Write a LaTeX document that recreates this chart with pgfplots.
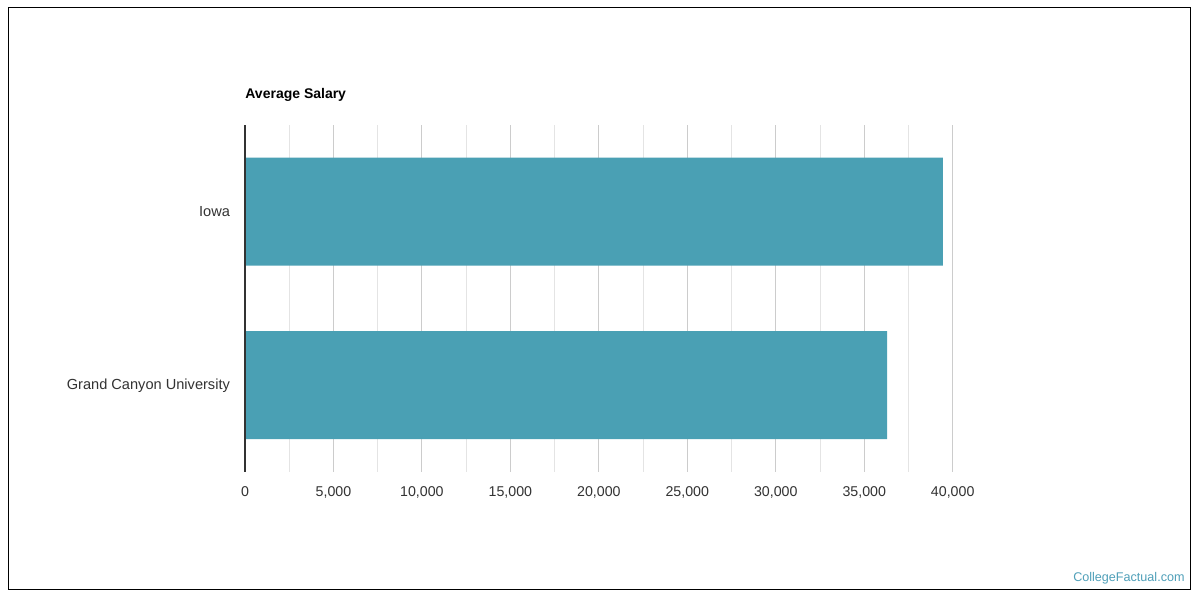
\documentclass[border=0pt]{standalone}
\usepackage{pgfplots}
\pgfplotsset{compat=1.18}
\usepackage{fontspec}
\setmainfont{Liberation Sans}
\definecolor{barc}{RGB}{74,160,180}
\definecolor{majg}{RGB}{204,204,204}
\definecolor{ming}{RGB}{228,228,228}
\definecolor{txt}{RGB}{51,51,51}
\definecolor{brand}{RGB}{80,160,185}
\begin{document}
\begin{tikzpicture}[x=0.5pt,y=0.5pt]
\path[fill=white] (0,0) rectangle (1200,600);
\draw[black, line width=0.5pt] (8,10) rectangle (1190,592);
\node[anchor=west, font=\fontsize{7}{8}\selectfont\bfseries, inner sep=0] at (245,505) {Average Salary};
\node[anchor=east, font=\fontsize{6.3}{7}\selectfont, text=brand, inner sep=0] at (1185,22) {CollegeFactual.com};
\begin{axis}[
  at={(122.5pt,64pt)}, anchor=south west,
  scale only axis, width=353.85pt, height=173.5pt,
  xmin=0, xmax=40000, ymin=-0.5, ymax=1.5,
  xbar, bar width=54pt,
  ytick={0,1}, yticklabels={Grand Canyon University, Iowa},
  xtick={0,5000,...,40000},
  minor xtick={2500,7500,...,37500},
  xmajorgrids, xminorgrids,
  major grid style={majg, line width=0.5pt},
  minor grid style={ming, line width=0.5pt},
  axis line style={draw=none},
  major tick length=0pt, minor tick length=0pt,
  tick style={draw=none},
  yticklabel style={font=\fontsize{7.3}{8}\selectfont, text=txt, xshift=-4pt},
  xticklabel style={font=\fontsize{7.1}{8}\selectfont, text=txt, yshift=-3.6pt},
  /pgf/number format/assume math mode=true,
  /pgf/number format/1000 sep={,},
  /pgf/number format/fixed,
  scaled x ticks=false,
  clip=false,
]
\addplot[fill=barc, draw=none] coordinates {(36300,0) (39450,1)};
\draw[txt, line width=0.6pt] (axis cs:0,-0.5) -- (axis cs:0,1.5);
\end{axis}
\end{tikzpicture}
\end{document}
